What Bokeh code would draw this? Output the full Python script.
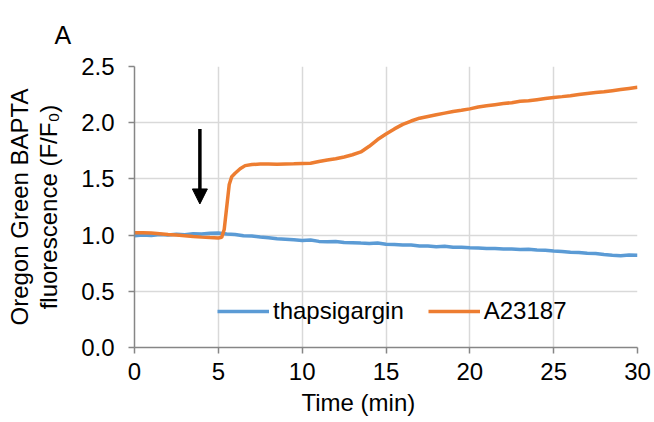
from bokeh.plotting import figure
from bokeh.embed import file_html
from bokeh.resources import INLINE
from bokeh.models import (Title, Arrow, NormalHead, Legend, LegendItem, Range1d,
                          FixedTicker, PrintfTickFormatter)

# ---- data ----
t_thaps = [0, 0.5, 1, 1.5, 2, 2.5, 3, 3.5, 4, 4.5, 5, 5.5, 6, 6.5, 7, 7.5, 8, 8.5, 9, 9.5,
           10, 10.5, 11, 11.5, 12, 12.5, 13, 13.5, 14, 14.5, 15, 15.5, 16, 16.5, 17, 17.5,
           18, 18.5, 19, 19.5, 20, 20.5, 21, 21.5, 22, 22.5, 23, 23.5, 24, 24.5, 25, 25.5,
           26, 26.5, 27, 27.5, 28, 28.5, 29, 29.5, 30]
y_thaps = [0.995, 1.000, 0.996, 1.005, 1.001, 1.008, 1.004, 1.013, 1.009, 1.016, 1.018, 1.010,
           1.006, 0.994, 0.991, 0.983, 0.976, 0.968, 0.963, 0.958, 0.953, 0.956, 0.944, 0.941,
           0.943, 0.934, 0.933, 0.929, 0.926, 0.929, 0.919, 0.916, 0.911, 0.911, 0.904, 0.903,
           0.897, 0.901, 0.892, 0.891, 0.887, 0.886, 0.881, 0.881, 0.876, 0.876, 0.871, 0.874,
           0.867, 0.866, 0.859, 0.854, 0.847, 0.846, 0.839, 0.836, 0.827, 0.821, 0.817, 0.823,
           0.821]

t_a23187 = [0, 0.5, 1, 1.5, 2, 2.5, 3, 3.5, 4, 4.5, 5, 5.2, 5.35, 5.5, 5.65, 5.8, 6.0, 6.3,
            6.6, 7, 7.5, 8, 8.5, 9, 9.5, 10, 10.5, 11, 11.5, 12, 12.5, 13, 13.5, 14, 14.5, 15,
            15.5, 16, 16.5, 17, 17.5, 18, 18.5, 19, 19.5, 20, 20.5, 21, 21.5, 22, 22.5, 23,
            23.5, 24, 24.5, 25, 25.5, 26, 26.5, 27, 27.5, 28, 28.5, 29, 29.5, 30]
y_a23187 = [1.020, 1.020, 1.018, 1.012, 1.005, 1.000, 0.995, 0.988, 0.982, 0.978, 0.975, 0.980,
            1.050, 1.250, 1.450, 1.520, 1.550, 1.590, 1.618, 1.628, 1.632, 1.632, 1.631, 1.633,
            1.635, 1.638, 1.640, 1.655, 1.668, 1.680, 1.695, 1.715, 1.740, 1.790, 1.850, 1.900,
            1.945, 1.985, 2.015, 2.040, 2.055, 2.070, 2.085, 2.100, 2.110, 2.123, 2.140, 2.150,
            2.160, 2.170, 2.178, 2.190, 2.195, 2.205, 2.215, 2.225, 2.232, 2.240, 2.250, 2.260,
            2.268, 2.275, 2.285, 2.295, 2.305, 2.315]

series_names = ["thapsigargin", "A23187"]
x_ticks = [0, 5, 10, 15, 20, 25, 30]
y_ticks = [0.0, 0.5, 1.0, 1.5, 2.0, 2.5]
panel_label = "A"

arrow_x = 3.9
arrow_y_start = 1.945
arrow_y_end = 1.277

FONT = "Liberation Sans"
FS = "24px"
BLUE = "#5B9BD5"
ORANGE = "#ED7D31"
AXIS = "#868686"
GRID = "#D9D9D9"

p = figure(width=654, height=422, output_backend="svg", toolbar_location=None,
           x_range=Range1d(0, 30), y_range=Range1d(0, 2.5),
           min_border_left=134, min_border_right=17, min_border_top=66, min_border_bottom=75)
p.outline_line_color = None
p.background_fill_color = "white"
p.border_fill_color = "white"

# panel letter "A"
p.title.text = panel_label
p.title.align = "left"
p.title.offset = -80
p.title.vertical_align = "top"
p.title.text_font = FONT
p.title.text_font_size = "25px"
p.title.text_font_style = "normal"
p.title.text_color = "black"
p.title.standoff = 32

# axes
for ax in (p.xaxis[0], p.yaxis[0]):
    ax.axis_line_color = AXIS
    ax.axis_line_width = 1.5
    ax.major_tick_line_color = AXIS
    ax.major_tick_line_width = 1.5
    ax.major_tick_in = 0
    ax.major_tick_out = 6
    ax.minor_tick_line_color = None
    ax.major_label_text_font = FONT
    ax.major_label_text_font_size = FS
    ax.major_label_text_color = "black"

p.xaxis.ticker = FixedTicker(ticks=x_ticks)
p.yaxis.ticker = FixedTicker(ticks=y_ticks)
p.yaxis.formatter = PrintfTickFormatter(format="%.1f")
p.xaxis.major_label_standoff = 9
p.yaxis.major_label_standoff = 14

p.yaxis.axis_label = "fluorescence (F/F\u2080)"
p.yaxis.axis_label_text_font = FONT
p.yaxis.axis_label_text_font_size = FS
p.yaxis.axis_label_text_font_style = "normal"
p.yaxis.axis_label_text_color = "black"
p.yaxis.axis_label_standoff = 16

p.add_layout(Title(text="Oregon Green BAPTA", align="center", text_font=FONT,
                   text_font_size=FS, text_font_style="normal", text_color="black",
                   standoff=0), "left")

p.add_layout(Title(text="Time (min)", align="left", offset=167, text_font=FONT,
                   text_font_size=FS, text_font_style="normal", text_color="black",
                   standoff=8), "below")

# grid
p.xgrid.grid_line_color = GRID
p.ygrid.grid_line_color = GRID
p.xgrid.grid_line_width = 1.5
p.ygrid.grid_line_width = 1.5

# lines
r1 = p.line(t_thaps, y_thaps, line_color=BLUE, line_width=3.5)
r2 = p.line(t_a23187, y_a23187, line_color=ORANGE, line_width=3.5)

# arrow
p.add_layout(Arrow(end=NormalHead(size=15, fill_color="black", line_color="black"),
                   x_start=arrow_x, y_start=arrow_y_start, x_end=arrow_x, y_end=arrow_y_end,
                   line_color="black", line_width=3.5))

legend = Legend(items=[LegendItem(label=series_names[0], renderers=[r1]),
                       LegendItem(label=series_names[1], renderers=[r2])],
                orientation="horizontal", location=(83, 22),
                background_fill_alpha=0, border_line_color=None,
                glyph_width=52, glyph_height=20, label_standoff=4, spacing=24,
                padding=0, margin=0, label_text_font=FONT, label_text_font_size=FS,
                label_text_color="black")
p.add_layout(legend)

open("out.html", "w").write(file_html(p, INLINE))
